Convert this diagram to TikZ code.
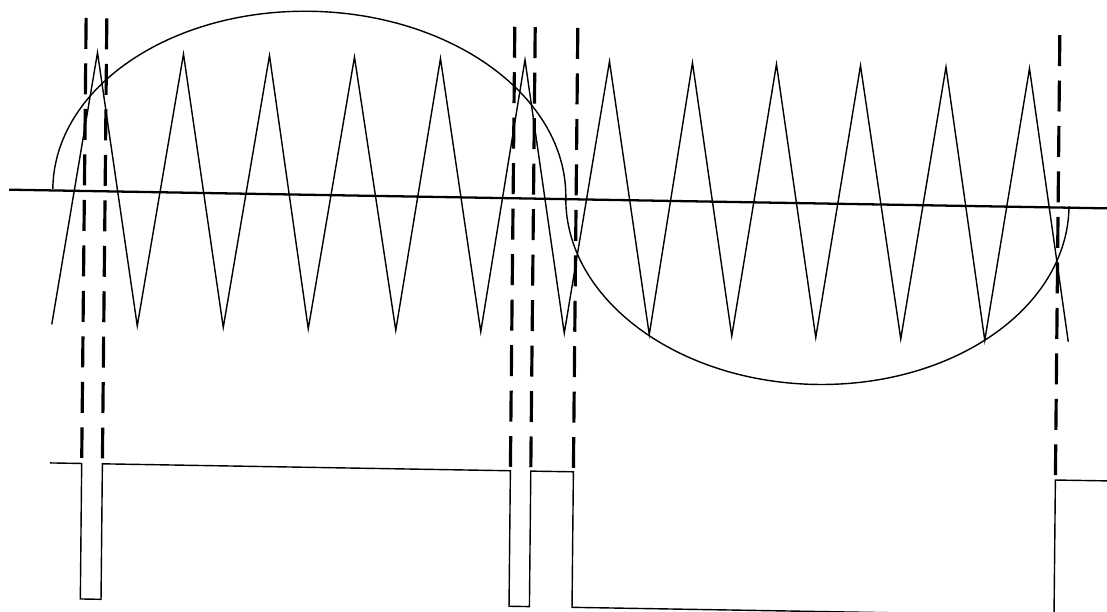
\documentclass[tikz,border=0pt]{standalone}
\begin{document}
\begin{tikzpicture}[x=0.02cm,y=0.02cm,
  thinline/.style={line width=0.8pt},
  switchline/.style={line width=1.8pt,dash pattern=on 0.62cm off 0.29cm}]
\useasboundingbox (0,0) rectangle (1107,-612);
\clip (0,0) rectangle (1107,-612);
\begin{scope}[cm={1,-0.017,0.01,1,(0,0)}]
\draw[line width=1.3pt] (11,-189.5)--(1125,-189.5);
\draw[thinline] (55,-323.5)--(98,-51)--(140.5,-323.5)--(184,-51)--(226.5,-323.5)--(270,-51)--(311.5,-323.5)--(355,-51)--(399,-323.5)--(441,-51)--(484,-323.5)--(525.5,-51)--(567.5,-323.5)--(610,-51)--(652.5,-323.5)--(693,-51)--(735,-323.5)--(777,-51)--(819,-323.5)--(861,-51)--(904,-323.5)--(946.5,-51)--(988,-323.5)--(1030,-51)--(1071.5,-323.5);
\draw[thinline] (54.7,-188) arc[start angle=180,end angle=0,x radius=256.5,y radius=182]
  arc[start angle=180,end angle=360,x radius=251.6,y radius=182.5];
\draw[switchline] (86.3,-16.5)--(86.3,-456.5);
\draw[switchline] (107,-16.5)--(107,-456.5);
\draw[switchline] (515,-18)--(515,-458);
\draw[switchline] (535.4,-18)--(535.4,-458);
\draw[switchline] (578,-18)--(578,-458);
\draw[switchline] (1060,-17)--(1060,-457);
\draw[thinline] (54.6,-462)--(86.3,-462)--(86.3,-597.5)--(107,-597.5)--(107,-462)--(515,-462)--(515,-597.5)--(535.4,-597.5)--(535.4,-462)--(578,-462)--(578,-597.5)--(1060,-597.5)--(1060,-462)--(1125,-462);
\end{scope}
\end{tikzpicture}
\end{document}
